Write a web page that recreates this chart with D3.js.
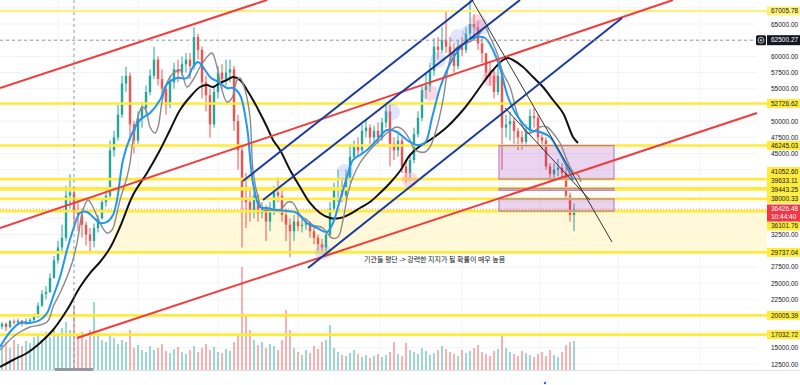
<!DOCTYPE html>
<html>
<head>
<meta charset="utf-8">
<script src="https://cdn.jsdelivr.net/npm/d3@7"></script>
<style>
  html, body { margin: 0; padding: 0; background: #fff; overflow: hidden; }
  svg { display: block; font-family: "Liberation Sans", Arial, sans-serif; }
</style>
</head>
<body>
<div id="chart"></div>
<script>
// 3-day candles, open = previous close
const firstOpen = 18300;
const closes = [
  18700,18200,19100,18900,19200,18700,19100,19300,19800,21500,
  23300,23600,25800,28500,30500,32000,38500,39000,36000,35500,
  34000,32500,31500,33500,35000,37500,38500,45500,47500,51000,
  55800,57000,49500,47000,50500,52000,54500,57000,59500,56500,
  55000,52500,56000,58000,57500,58800,59500,58500,63000,61000,
  56000,54000,49500,54500,57500,56500,57500,58000,50000,45500,
  38000,37500,36000,38500,35800,36500,34500,36500,39000,38500,
  35500,34000,33000,34500,33800,34000,34300,33000,32000,31000,
  30500,32500,36500,39500,39800,38500,41000,44500,46000,45500,
  48500,49000,47500,48500,47500,49800,51500,46500,45500,47000,
  43000,42000,44000,48000,50500,54800,55500,57800,61500,61000,
  62500,61500,60500,58500,61500,61000,63500,65000,64500,62000,
  60500,57500,57000,54500,57000,49000,49500,50000,48500,47500,
  46800,48500,50800,50500,47500,47000,43000,41800,42500,42800,
  42000,38500,35500,36426.48
];
const highs = [
  19000,18900,19300,19400,19500,19300,19500,19600,20300,22000,
  23900,24500,26500,29200,31500,34000,40000,41800,39500,37800,
  36500,34500,33500,34200,35500,38000,39500,47000,48500,52500,
  57000,58400,57500,50000,51500,53000,55500,58000,61500,60000,
  58000,55500,57000,59000,59500,60000,60500,60500,64500,63500,
  61500,57000,55000,55500,58500,58800,59500,59500,58500,51000,
  46000,42000,39500,39800,38800,37500,37000,37500,40000,41300,
  39500,36500,35000,35500,36000,35000,35000,34500,33500,32500,
  31800,33000,37500,40500,42500,41000,42500,46500,47000,47500,
  49500,50300,49500,49300,49800,50500,53000,52500,47500,48000,
  47500,44000,44800,49000,51500,55500,57500,59000,62800,63000,
  64500,66900,63000,62000,62500,63000,64500,68700,66500,65500,
  63000,60500,59000,58000,58500,57500,51000,51500,50500,49000,
  48500,49500,51800,52000,51000,48000,47500,43500,43500,44200,
  43500,43000,39000,37300
];
const lows = [
  17900,17600,18000,18600,18700,18300,18500,18800,19000,19600,
  21300,22500,23500,25700,28000,29500,31500,36500,34000,33000,
  32000,30800,29800,30500,32800,34800,36800,38000,44500,47000,
  50500,54500,47000,45000,46500,49000,51000,54000,56500,55500,
  53500,51000,52000,55000,56000,57000,57500,56500,58000,59500,
  53500,51500,47500,49000,53500,55000,55500,56000,48500,42500,
  30500,33500,34500,35000,34500,35000,31500,33000,35500,37500,
  34500,31500,29000,31500,33000,32800,33200,32000,31000,30000,
  29500,29800,32000,36000,37500,37500,38000,40500,44000,44500,
  45000,47500,46500,46800,46500,47000,49000,43000,44000,44500,
  42000,40500,40800,43500,47500,50000,53500,54500,57000,59500,
  60500,60500,59000,57500,58000,60000,60500,62500,62800,61000,
  59000,56500,55500,53500,54000,42500,47500,47000,46500,45500,
  45600,46000,48000,49000,46500,45600,42500,40700,41000,41500,
  41200,38000,34500,33000
];
const volumes = [
  25,28,22,30,26,24,29,27,33,35,30,38,33,40,36,42,48,40,65,35,
  38,30,40,68,35,30,28,35,32,26,30,28,40,22,25,20,18,24,20,22,
  26,19,17,21,23,18,16,20,24,18,22,26,20,23,18,17,21,19,28,35,
  103,55,40,30,25,28,22,26,24,20,30,60,40,22,18,15,20,17,24,21,
  28,30,45,22,18,15,14,17,20,16,13,15,12,14,16,13,15,18,28,16,
  14,27,20,18,16,22,19,15,17,20,24,21,18,16,14,20,17,19,22,25,
  18,16,14,19,21,35,22,18,16,14,19,17,15,13,16,18,14,20,15,13,
  18,25,28,29
];

// moving averages: [candle index, price]
const maBlue = [
  [-0.5,15126],[2,17442],[4.5,18831],[7,18831],[9.5,19295],[11.25,20376],[12.75,22846],
  [14.5,25934],[16.25,30104],[17.75,33191],[19.5,35816],[21.25,35971],[22.75,35199],
  [24.5,34272],[26.25,34427],[27.75,35508],[28.75,37824],[30.25,44000],[32,47397],
  [34.5,50177],[37,51257],[39.5,53265],[41.25,55735],[43.75,56662],[46.25,56662],
  [47.75,58360],[49,59132],[50.25,58360],[52,56818],[54.5,55890],[56.25,55118],
  [57.75,55118],[59.5,54037],[61.25,49096],[62.75,40449],[64.5,36743],[66.25,36589],
  [68.75,36280],[71.25,36125],[73.75,35816],[76.25,34272],[78.75,33500],[81.25,32882],
  [82.75,34272],[84.5,37824],[86.25,41376],[87.75,44000],[89.5,44772],[91.25,45545],
  [93.75,47088],[96.25,48633],[98.75,48324],[101.25,47088],[103.75,46317],[105.75,46626],
  [107.5,50485],[109.5,55118],[111.25,57897],[113.75,60677],[116.25,62375],[118.75,62993],
  [120.75,62838],[122.5,61294],[124.5,58206],[126.5,53728],[129,50640],[132,48633],
  [134.5,48324],[137,47551],[138.75,45853],[140.75,43537],[142.75,40912]
];
const maGray = [
  [-0.5,14663],[2.75,16670],[4.5,17442],[7,18214],[9.5,18523],[11.25,18986],[12,19758],
  [12.75,21302],[14.5,23463],[16.25,25934],[17.5,28095],[18.75,31185],[20.25,36280],
  [21.5,37824],[22.75,36743],[24.5,34272],[26.25,32729],[27.5,33191],[28.75,35816],
  [29.5,37824],[31.25,41376],[32,43537],[32.75,47088],[34,50640],[35,52184],[36,51721],
  [37,49096],[38.25,48169],[39,49096],[40.25,53728],[42,56818],[44.5,57897],[46.25,55272],
  [47.75,56353],[49.5,58360],[51.25,59904],[52.5,60522],[53.75,58360],[55,54809],
  [56.25,52956],[57.5,53574],[58.75,56353],[59.5,56662],[60.75,54809],[62,50640],
  [62.75,42456],[64,38287],[65.25,36280],[67,36280],[69.5,36280],[71.5,37514],
  [72.75,37361],[74.5,35508],[76.25,34736],[77.75,33964],[80.25,33500],[82.5,31957],
  [84,32111],[85.25,34736],[86.5,38904],[87.75,41376],[89.5,43537],[92,45545],
  [94.5,47088],[96.25,48169],[98.75,49096],[100.25,48633],[102,47088],[103.25,45545],
  [105.75,45236],[107,46008],[108.75,49096],[110.25,53265],[112,59441],[113.75,61449],
  [116.25,62066],[117.75,62530],[119.5,63610],[120.75,64537],[122,62993],[123.75,60522],
  [125.25,57434],[127,55272],[128.75,51257],[130.25,49096],[131.25,48169],[132.75,48324],
  [134.5,49096],[136.25,49096],[137.75,48169],[139.5,46626],[141.25,44000],[142.75,42147],
  [144,41685],[144.75,40603]
];
const maBlack = [
  [-0.5,12037],[2.75,13118],[6.25,14199],[9.5,15743],[12.75,17751],[16.25,20837],
  [19.5,24389],[22,26551],[24.5,28250],[27,30412],[29.5,33654],[32.75,38596],
  [36.25,41992],[39.5,45545],[42,48633],[44.5,51721],[47,53728],[49.5,55272],
  [51.25,55581],[52.75,55272],[54.5,55890],[56.25,56353],[57.75,56816],[59.5,56353],
  [61.25,54809],[62.75,53265],[64.5,51257],[66.25,49096],[67.75,47088],[69.5,45545],
  [72,42456],[74.5,39832],[77,37361],[79.5,35816],[82,35044],[84.5,35044],[87,35662],
  [89.5,36589],[92,37514],[94.5,38904],[97,40449],[99.5,42302],[102,44772],[104.5,46162],
  [107,47088],[111.25,49096],[115.25,51721],[117.75,53728],[120.25,55890],[122.75,57897],
  [125.25,59441],[126.5,59750],[127.75,59441],[130.25,58360],[132.75,56818],[135.25,55272],
  [137.75,53265],[140.25,51257],[142.75,47551],[144,46626]
];

// drawings: two anchors [index, price]
const redTrends = [
  [[-0.5,55118],[66.25,68706]],
  [[-0.5,33500],[167.75,68706]],
  [[18.75,16515],[188.75,51257]]
];
const blueTrends = [
  [[60.25,40758],[117.75,68706]],
  [[65.25,37824],[129.5,68706]],
  [[76.5,27324],[155,65926]]
];
const darkTrends = [
  [[117.5,68706],[152.5,31339]],
  [[125.75,52030],[147,37824]]
];

const levels = [67005.78, 52726.62, 46245.03, 41052.60, 39633.11, 39443.25, 38000.33, 36101.76, 29737.04, 20005.39, 17032.72];
const boxes = [[46245.03, 41052.60], [39633.11, 39443.25], [38000.33, 36101.76]];
const boxSpan = [124.25, 153];
const zone = { from: 27.75, top: 36101.76, bottom: 29737.04 };
const marks = [
  [80.25,29794,"b"],[85.75,42147,"b"],[97.5,51412,"b"],[102,40912,"p"],[107,54346,"p"],
  [109,59441,"b"],[114,62993,"b"],[117,63765,"b"],[120,64537,"b"],[119,65309,"p"],[122,56662,"p"]
];
const gridIdx = [14, 34, 54, 74, 94.5, 115, 134.5, 154, 174.5];
const lastPrice = 36426.48, lastTime = "10:44:40";
const crossPrice = 62500.27, crossIdx = 18;
const note = "기관들 평단 -> 강력한 지지가 될 확률이 매우 높음";

const W = 800, H = 385, plotR = 767, plotB = 370;
const svg = d3.select("#chart").append("svg").attr("width", W).attr("height", H);
const x = d3.scaleLinear().domain([0, 143]).range([2, 574]);
const y = d3.scaleLinear().domain([12500, 65000]).range([364, 24]);
const vy = d3.scaleLinear().domain([0, 103]).range([plotB, 267]);

svg.append("clipPath").attr("id", "plot").append("rect").attr("width", plotR).attr("height", plotB);
const g = svg.append("g").attr("clip-path", "url(#plot)");

const tickVals = d3.range(12500, 67501, 2500);
g.selectAll(".hg").data(tickVals).join("line")
  .attr("x1", 0).attr("x2", 757).attr("y1", d => y(d)).attr("y2", d => y(d))
  .attr("stroke", "#f0f3fa");
g.selectAll(".vg").data(gridIdx).join("line")
  .attr("x1", d => x(d)).attr("x2", d => x(d)).attr("y1", 0).attr("y2", plotB)
  .attr("stroke", "#f0f3fa");

// support zone
g.append("rect")
  .attr("x", x(zone.from)).attr("width", plotR - x(zone.from))
  .attr("y", y(zone.top)).attr("height", y(zone.bottom) - y(zone.top))
  .attr("fill", "#fff9d9");

const candles = closes.map((c, i) => ({
  i, c, o: i === 0 ? firstOpen : closes[i - 1], h: highs[i], l: lows[i], v: volumes[i]
}));
const up = d => d.c >= d.o;

g.selectAll(".vol").data(candles).join("rect")
  .attr("x", d => x(d.i) - 1).attr("width", 2)
  .attr("y", d => vy(d.v)).attr("height", d => plotB - vy(d.v))
  .attr("fill", d => up(d) ? "rgba(38,166,154,0.45)" : "rgba(239,83,80,0.45)");

g.selectAll(".wick").data(candles).join("line")
  .attr("x1", d => x(d.i)).attr("x2", d => x(d.i))
  .attr("y1", d => y(d.h)).attr("y2", d => y(d.l))
  .attr("stroke", d => up(d) ? "#26a69a" : "#ef5350").attr("stroke-width", 1);
g.selectAll(".body").data(candles).join("rect")
  .attr("x", d => x(d.i) - 1.2).attr("width", 2.4)
  .attr("y", d => y(Math.max(d.o, d.c)))
  .attr("height", d => Math.max(1, Math.abs(y(d.o) - y(d.c))))
  .attr("fill", d => up(d) ? "#26a69a" : "#ef5350");

// horizontal levels
g.selectAll(".lvl").data(levels).join("line")
  .attr("x1", 0).attr("x2", plotR).attr("y1", d => y(d)).attr("y2", d => y(d))
  .attr("stroke", (d, i) => i === 0 ? "#fff176" : "#ffeb3b")
  .attr("stroke-width", (d, i) => i === 0 ? 1.8 : 2.6);

g.selectAll(".box").data(boxes).join("rect")
  .attr("x", x(boxSpan[0])).attr("width", x(boxSpan[1]) - x(boxSpan[0]))
  .attr("y", d => y(d[0])).attr("height", d => Math.max(2, y(d[1]) - y(d[0])))
  .attr("fill", "rgba(156,39,176,0.2)").attr("stroke", "#b072c4").attr("stroke-width", 1);

// last price dotted line
g.append("line").attr("x1", 0).attr("x2", plotR).attr("y1", y(lastPrice)).attr("y2", y(lastPrice))
  .attr("stroke", "#ef5350").attr("stroke-opacity", 0.6).attr("stroke-dasharray", "1,2");

// highlight marks
g.selectAll(".mark").data(marks).join("circle")
  .attr("cx", d => x(d[0])).attr("cy", d => y(d[1])).attr("r", 8)
  .attr("fill", d => d[2] === "b" ? "rgba(130,150,240,0.25)" : "rgba(240,120,150,0.28)");

const line = d3.line().x(d => x(d[0])).y(d => y(d[1])).curve(d3.curveCatmullRom);
g.append("path").datum(maBlack).attr("d", line).attr("fill", "none").attr("stroke", "#111").attr("stroke-width", 2);
g.append("path").datum(maGray).attr("d", line).attr("fill", "none").attr("stroke", "#8a8a8a").attr("stroke-width", 1.4);
g.append("path").datum(maBlue).attr("d", line).attr("fill", "none").attr("stroke", "#2196f3").attr("stroke-width", 2);

const straight = d3.line().x(d => x(d[0])).y(d => y(d[1]));
g.selectAll(".rt").data(redTrends).join("path").attr("d", straight)
  .attr("fill", "none").attr("stroke", "#f23c3c").attr("stroke-width", 2);
g.selectAll(".bt").data(blueTrends).join("path").attr("d", straight)
  .attr("fill", "none").attr("stroke", "#1b3a9e").attr("stroke-width", 2);
g.selectAll(".dt").data(darkTrends).join("path").attr("d", straight)
  .attr("fill", "none").attr("stroke", "#333").attr("stroke-width", 1);

// crosshair
g.append("line").attr("x1", 0).attr("x2", 756).attr("y1", y(crossPrice)).attr("y2", y(crossPrice))
  .attr("stroke", "#9598a1").attr("stroke-dasharray", "3,3");
g.append("line").attr("x1", x(crossIdx)).attr("x2", x(crossIdx)).attr("y1", 0).attr("y2", plotB)
  .attr("stroke", "#9598a1").attr("stroke-dasharray", "3,3");

g.append("text").attr("x", x(90.5)).attr("y", y(zone.bottom) + 10)
  .attr("font-family", "'Noto Sans CJK KR', sans-serif").attr("font-size", 7)
  .attr("fill", "#131722").text(note);

svg.append("line").attr("x1", 0).attr("x2", W).attr("y1", plotB + 0.5).attr("y2", plotB + 0.5).attr("stroke", "#e0e3eb");
svg.append("rect").attr("x", x(crossIdx) - 19).attr("y", plotB - 2).attr("width", 38).attr("height", 3).attr("fill", "#9598a1");
svg.append("circle").attr("cx", x(135.75)).attr("cy", 383).attr("r", 1.2).attr("fill", "#2962ff");

// level labels, pushed apart around the last-price label
const lh = 9;
const lastTop = y(lastPrice) - 4.5, lastBot = lastTop + 17;
const above = levels.filter(d => d > lastPrice).sort((a, b) => a - b);
const below = levels.filter(d => d < lastPrice).sort((a, b) => b - a);
const placed = [];
let edge = lastTop;
above.forEach(v => { const c = Math.min(y(v), edge - lh / 2); placed.push([v, c]); edge = c - lh / 2; });
edge = lastBot;
below.forEach(v => { const c = Math.max(y(v), edge + lh / 2); placed.push([v, c]); edge = c + lh / 2; });

// price axis: skip ticks hidden behind a label
const taken = placed.map(d => [d[1] - lh / 2, d[1] + lh / 2])
  .concat([[lastTop, lastBot], [y(crossPrice) - 5, y(crossPrice) + 5]]);
const freeTicks = tickVals.filter(t => y(t) > 4 && taken.every(r => y(t) + 3.5 < r[0] || y(t) - 3.5 > r[1]));
const axis = svg.append("g").attr("transform", "translate(757,0)")
  .call(d3.axisRight(y).tickValues(freeTicks).tickFormat(d3.format(".2f")).tickSize(0).tickPadding(14));
axis.select(".domain").remove();
axis.attr("font-family", "'Liberation Sans', Arial, sans-serif").attr("font-size", 6.5);
axis.selectAll("text").attr("fill", "#131722");

const lab = svg.append("g").attr("font-size", 6.5);
lab.selectAll("rect").data(placed).join("rect")
  .attr("x", plotR).attr("width", W - plotR).attr("y", d => d[1] - lh / 2).attr("height", lh)
  .attr("fill", d => d[0] === levels[0] ? "#fff176" : "#ffeb3b");
lab.selectAll("text").data(placed).join("text")
  .attr("x", 771).attr("y", d => d[1]).attr("dy", "0.35em").attr("fill", "#131722")
  .text(d => d3.format(".2f")(d[0]));

// last price label
svg.append("rect").attr("x", plotR).attr("width", W - plotR).attr("y", lastTop).attr("height", 17).attr("fill", "#f23645");
svg.append("text").attr("x", 771).attr("y", lastTop + 4.5).attr("dy", "0.35em").attr("font-size", 6.5).attr("fill", "#fff").text(d3.format(".2f")(lastPrice));
svg.append("text").attr("x", 771).attr("y", lastTop + 12).attr("dy", "0.35em").attr("font-size", 6.5).attr("fill", "#fff").text(lastTime);

// crosshair label
const cy = y(crossPrice);
svg.append("rect").attr("x", 756).attr("y", cy - 5).attr("width", 10).attr("height", 10).attr("rx", 1.5).attr("fill", "#131722");
svg.append("circle").attr("cx", 761).attr("cy", cy).attr("r", 3).attr("fill", "none").attr("stroke", "#fff").attr("stroke-width", 0.7);
svg.append("path").attr("d", `M759.5,${cy}H762.5M761,${cy - 1.5}V${cy + 1.5}`).attr("stroke", "#fff").attr("stroke-width", 0.7);
svg.append("rect").attr("x", plotR).attr("width", W - plotR).attr("y", cy - 5).attr("height", 10).attr("fill", "#131722");
svg.append("text").attr("x", 771).attr("y", cy).attr("dy", "0.35em").attr("font-size", 6.5).attr("fill", "#fff").text(d3.format(".2f")(crossPrice));
</script>
</body>
</html>
